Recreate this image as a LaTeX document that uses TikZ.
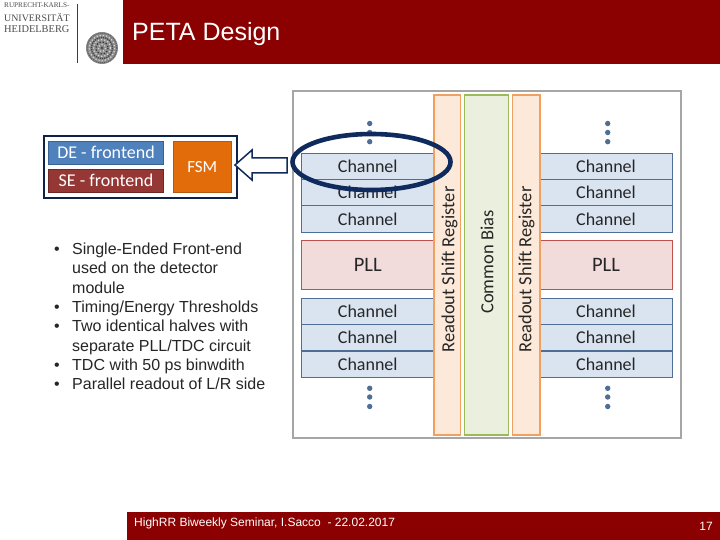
\documentclass[tikz,border=0pt]{standalone}
\usepackage{fontspec}
\setmainfont{Liberation Sans}
\newfontfamily\calfont{Carlito}
\newfontfamily\lserif{Liberation Serif}
\definecolor{hdr}{HTML}{8B0000}
\definecolor{chfill}{HTML}{DAE4F1}
\definecolor{chline}{HTML}{4F6E96}
\definecolor{pllfill}{HTML}{F1DCDB}
\definecolor{pllline}{HTML}{C0504D}
\definecolor{srfill}{HTML}{FDE9D9}
\definecolor{srline}{HTML}{F0A060}
\definecolor{cbfill}{HTML}{EAF0DD}
\definecolor{cbline}{HTML}{9BBB59}
\definecolor{navy}{HTML}{0F2A5C}
\definecolor{txt}{HTML}{262626}
\definecolor{defill}{HTML}{4F81BD}
\definecolor{deline}{HTML}{3A6394}
\definecolor{sefill}{HTML}{953735}
\definecolor{seline}{HTML}{6E2725}
\definecolor{fsmfill}{HTML}{E36C0A}
\definecolor{fsmline}{HTML}{B35A10}
\tikzset{
  box/.style={anchor=north west,inner sep=0pt,outer sep=0pt},
  chan/.style={box,draw=chline,fill=chfill,line width=0.9pt,minimum width=132.5pt,minimum height=26.3pt,text=txt,font=\calfont\fontsize{18}{18}\selectfont},
  pll/.style={box,draw=pllline,fill=pllfill,line width=0.9pt,minimum width=132.5pt,minimum height=48.6pt,text=txt,font=\calfont\fontsize{20.5}{20.5}\selectfont},
  shiftreg/.style={box,draw=srline,fill=srfill,line width=1.3pt,minimum width=26.3pt,minimum height=340pt},
  vtext/.style={rotate=90,text=txt,inner sep=0pt,font=\calfont\fontsize{18.5}{18.5}\selectfont},
  dotmark/.style={circle,fill=chline,inner sep=0pt,minimum size=5.4pt},
  fe/.style={box,text=white,line width=0.9pt,font=\calfont\fontsize{18}{18}\selectfont},
  bul/.style={anchor=base west,inner sep=0pt,text=txt,font=\fontsize{16}{16}\selectfont},
  lg/.style={anchor=base west,inner sep=0pt,text=black!70,font=\lserif},
  ftxt/.style={inner sep=0pt,text=white,font=\fontsize{12}{12}\selectfont},
}
\begin{document}
\begin{tikzpicture}[x=1pt,y=-1pt]
\useasboundingbox (0,0) rectangle (720,540);
\fill[white] (0,0) rectangle (720,540);
% header
\node[box,fill=hdr,minimum width=597pt,minimum height=64.5pt] (hd) at (123,0) {};
\node[anchor=base west,inner sep=0pt,text=white,font=\fontsize{25}{25}\selectfont] (title) at (132,41) {PETA Design};
% logo
\node[lg,font=\lserif\fontsize{7.2}{7.2}\selectfont] (l1) at (4,8) {RUPRECHT-KARLS-};
\node[lg,font=\lserif\fontsize{9.9}{9.9}\selectfont] (l2) at (4,21.5) {UNIVERSITÄT};
\node[lg,font=\lserif\fontsize{10.4}{10.4}\selectfont] (l3) at (4,33) {HEIDELBERG};
\draw[black!55!brown,line width=0.7pt] (77.5,4) -- (77.5,63.5);
\fill[black!45] (102,48) circle (16);
\draw[black!65,line width=1pt,densely dotted] (102,48) circle (14.8);
\draw[black!15,line width=1.2pt,dotted] (102,48) circle (12.8);
\draw[black!75,line width=1.2pt,densely dotted] (102,48) circle (10.6);
\draw[black!15,line width=1.2pt,dotted] (102,48) circle (8.4);
\draw[black!80,line width=1.2pt,dotted] (102,48) circle (6);
\draw[black!15,line width=1.2pt,dotted] (102,48) circle (3.6);
\fill[black!70] (102,48) circle (1.6);
% frontend block
\node[box,draw=navy!80!black,fill=white,line width=1.4pt,minimum width=193pt,minimum height=62pt] (feb) at (44,136) {};
\node[fe,draw=deline,fill=defill,minimum width=115pt,minimum height=23pt] (de) at (48.5,141) {DE - frontend};
\node[fe,draw=seline,fill=sefill,minimum width=115pt,minimum height=23.5pt] (se) at (48.5,169) {SE - frontend};
\node[fe,draw=fsmline,fill=fsmfill,minimum width=57.5pt,minimum height=51.5pt,font=\calfont\fontsize{17}{17}\selectfont] (fsm) at (173.5,141) {FSM};
% panel
\node[box,draw=black!35,fill=white,line width=1.4pt,minimum width=388pt,minimum height=347pt] (panel) at (293,91) {};
% channels
\foreach \n/\y/\t in {a/153.3/Channel,b/179.6/Channel,c/205.7/Channel,d/298/Channel,e/324.5/Channel,f/351/Channel}{
  \node[chan] (l\n) at (301.5,\y) {\t};
  \node[chan,minimum width=132pt] (r\n) at (540,\y) {\t};
}
\node[pll] (lpll) at (301.5,240.7) {PLL};
\node[pll,minimum width=132pt] (rpll) at (540,240.7) {PLL};
% vertical bars
\node[shiftreg] (sl) at (434,95) {};
\node[shiftreg,draw=cbline,fill=cbfill,minimum width=44.4pt] (cb) at (464.3,95) {};
\node[shiftreg,minimum width=27.3pt] (sr) at (512.7,95) {};
\node[vtext] (tsl) at (449.5,269.5) {Readout Shift Register};
\node[vtext] (tcb) at (487,262) {Common Bias};
\node[vtext] (tsr) at (526.5,269.5) {Readout Shift Register};
% dots
\foreach \x/\s in {369.7/l,607.7/r}{
  \foreach \y/\k in {123.5/a,132.5/b,141.7/c,388.3/d,397/e,406.5/f}{
    \node[dotmark] (dot\s\k) at (\x,\y) {};
  }
}
% ellipse
\draw[navy,line width=4.6pt] (371.5,162) ellipse [x radius=79,y radius=28];
% arrow
\draw[navy,line width=1.5pt,fill=white,line join=miter] (287,158) -- (252,158) -- (252,150) -- (235,165) -- (252,180) -- (252,173) -- (287,173) -- cycle;
% bullets
\node[bul] (bt1) at (72,254.5) {Single-Ended Front-end};
\node[bul] (bt2) at (72,273.8) {used on the detector};
\node[bul] (bt3) at (72,293.1) {module};
\node[bul] (bt4) at (72,312.4) {Timing/Energy Thresholds};
\node[bul] (bt5) at (72,331.7) {Two identical halves with};
\node[bul] (bt6) at (72,351) {separate PLL/TDC circuit};
\node[bul] (bt7) at (72,370.3) {TDC with 50 ps binwdith};
\node[bul] (bt8) at (72,389.5) {Parallel readout of L/R side};
\foreach \y [count=\i] in {254.5,312.4,331.7,370.3,389.5}{
  \node[bul] (bd\i) at (54,\y) {•};
}
% footer
\node[box,fill=hdr,minimum width=593pt,minimum height=28pt] (ft) at (127,512) {};
\node[ftxt,anchor=base west] (ftt) at (134,526) {HighRR Biweekly Seminar, I.Sacco\ \ - 22.02.2017};
\node[ftxt,anchor=base east] (pg) at (713,530) {17};
\end{tikzpicture}
\end{document}
